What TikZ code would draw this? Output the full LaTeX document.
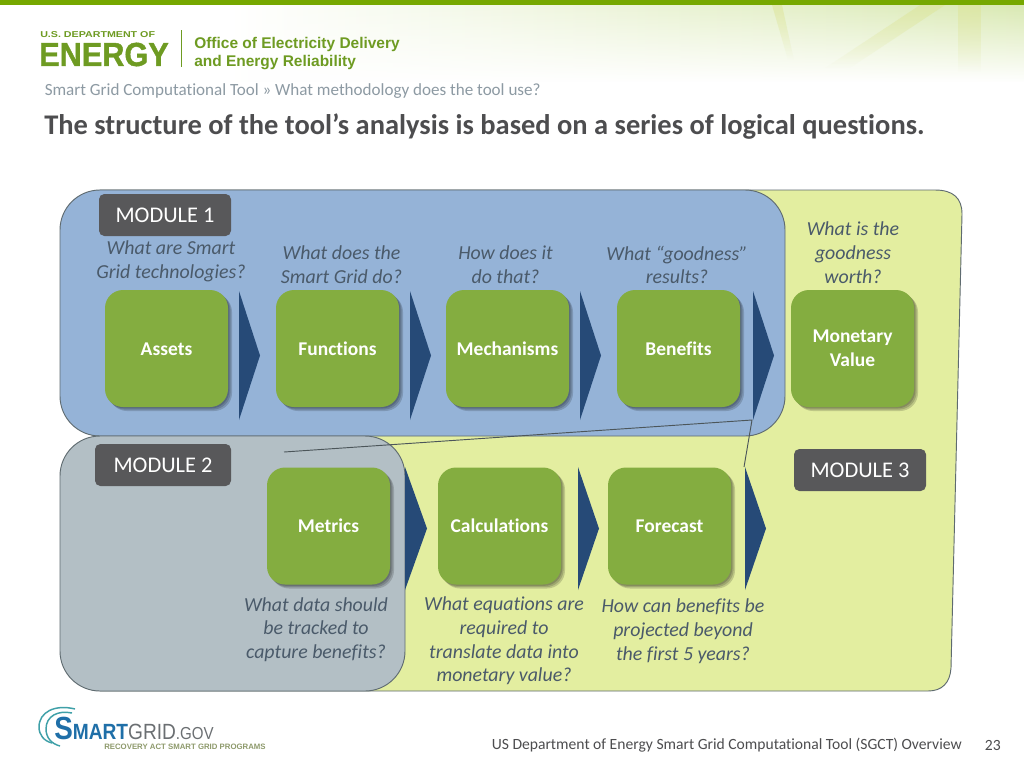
\documentclass[tikz,border=0pt]{standalone}
\usepackage{fontspec}
\setmainfont{Carlito}[RawFeature={-liga}]
\newfontfamily\logofont{Liberation Sans}
\newfontfamily\logoheavy{Liberation Sans Bold}[FakeBold=1.2]
\usetikzlibrary{fadings,shadows,calc}
\definecolor{topgreen}{HTML}{76A800}
\definecolor{logogreen}{HTML}{6E9B22}
\definecolor{panelgreen}{HTML}{E3EEA0}
\definecolor{panelblue}{HTML}{95B3D7}
\definecolor{panelgrey}{HTML}{B3BFC5}
\definecolor{edgegrey}{HTML}{5F6B70}
\definecolor{boxgreen}{HTML}{84AD40}
\definecolor{labgrey}{HTML}{58585A}
\definecolor{navy}{HTML}{264A77}
\definecolor{crumb}{HTML}{8D9AA3}
\definecolor{titlegrey}{HTML}{4D4D4F}
\definecolor{qtext}{HTML}{4A5A6A}
\definecolor{headgreen}{HTML}{D9E9B2}
\definecolor{headstreak}{HTML}{DDE59A}
\definecolor{sgblue}{HTML}{1F6FA8}
\definecolor{sgteal}{HTML}{3FA0A8}
\definecolor{sggrey}{HTML}{6B6F72}
\definecolor{sgolive}{HTML}{8E9A6C}
\tikzfading[name=headfade,top color=transparent!0,bottom color=transparent!100]
\tikzset{
  x=0.75pt,y=-0.75pt,
  panel/.style={draw=edgegrey,line width=0.7pt},
  softshadow/.style={general shadow={shadow xshift=#1,shadow yshift=-#1,fill=black,opacity=0.16}},
  stepbox/.style={fill=boxgreen,rounded corners=13.5pt,minimum width=92.25pt,minimum height=87.75pt,
    align=center,text=white,font=\fontsize{14.6}{18}\selectfont\bfseries,inner sep=0pt,
    softshadow=3pt,softshadow=2pt,softshadow=1pt},
  onelabel/.style={text height=11.4pt,text depth=2pt},
  toplabel/.style={text height=12.9pt,text depth=2pt},
  modlabel/.style={fill=labgrey,rounded corners=4pt,minimum width=99pt,minimum height=31.5pt,text=white,
    font=\fontsize{16.8}{18}\selectfont,inner sep=0pt},
  question/.style={align=center,text=qtext,font=\fontsize{14.9}{17.8}\selectfont\itshape,inner sep=0pt},
  chevronshape/.style={fill=navy},
  foottext/.style={inner sep=0pt,text=titlegrey,font=\fontsize{11.7}{13}\selectfont},
  logoarc/.style={draw=sgteal,line width=1.1pt},
}
\newcommand{\chevronat}[4]{\fill[chevronshape] (#1,#3) -- (#2,{(#3+#4)/2}) -- (#1,#4) -- cycle;}
\begin{document}
\begin{tikzpicture}
\useasboundingbox (0,0) rectangle (1024,768);
% header
\fill[white] (0,0) rectangle (1024,768);
\shade[left color=white,middle color=headgreen,right color=headgreen,path fading=headfade] (230,4) rectangle (1024,82);
\fill[headstreak,opacity=0.6,path fading=headfade] (958,5) rectangle (981,72);
\fill[headstreak,opacity=0.6,path fading=headfade] (920,5) -- (945,5) -- (850,68) -- (825,68) -- cycle;
\fill[headstreak,opacity=0.6,path fading=headfade] (772,5) -- (782,5) -- (794,60) -- (788,60) -- cycle;
\fill[topgreen] (0,0) rectangle (1024,4.5);
% logos
\node[anchor=west,inner sep=0pt,text=logogreen,font=\logofont\bfseries\fontsize{6.4}{7}\selectfont] (usdoe) at (40,34.5) {\scalebox{1.25}[1]{U.S. DEPARTMENT OF}};
\node[anchor=west,inner sep=0pt,text=logogreen,font=\logoheavy\fontsize{25}{25}\selectfont] (energy) at (39,54.5) {\scalebox{0.92}[1]{ENERGY}};
\draw[logogreen,line width=0.5pt] (181.5,30) -- (181.5,67);
\node[anchor=west,inner sep=0pt,text=logogreen,align=left,font=\logofont\bfseries\fontsize{11.6}{13.5}\selectfont] (oedr) at (194,54) {Office of Electricity Delivery\\and Energy Reliability};
% heading
\node[anchor=west,inner sep=0pt,text=crumb,font=\fontsize{12.8}{14}\selectfont] (crumbtext) at (44.5,91) {Smart Grid Computational Tool » What methodology does the tool use?};
\node[anchor=west,inner sep=0pt,text=titlegrey,font=\fontsize{21.35}{24}\selectfont\bfseries] (title) at (44,127) {The structure of the tool’s analysis is based on a series of logical questions.};
% panels
\path[panel,fill=panelgreen] (100,190) -- (935,190) .. controls (953,190) and (962,198) .. (962,214) -- (951,668) .. controls (950,683) and (942,691) .. (928,691) -- (100,691) -- cycle;
\draw[panel,fill=panelblue,rounded corners=30pt] (60,190) rectangle (785,436);
\draw[panel,fill=panelgrey,rounded corners=30pt] (60,436) rectangle (405,691);
% thin outline lines
\coordinate (lineA) at (284,452);
\coordinate (lineB) at (752,420);
\coordinate (lineC) at (744,467);
\draw[edgegrey!80!black,line width=0.7pt] (lineA) -- (lineB) -- (lineC);
% chevrons
\chevronat{239}{260}{291}{420}
\chevronat{410}{431}{291}{420}
\chevronat{580}{601}{291}{420}
\chevronat{753}{774}{291}{420}
\chevronat{405}{427}{467}{590}
\chevronat{578}{599}{467}{590}
\chevronat{745}{766}{467}{590}
% steps
\node[stepbox,toplabel] (assets) at (166.5,348.5) {Assets};
\node[stepbox,toplabel] (functions) at (337.5,348.5) {Functions};
\node[stepbox,toplabel] (mechanisms) at (507.5,348.5) {Mechanisms};
\node[stepbox,toplabel] (benefits) at (678.5,348.5) {Benefits};
\node[stepbox] (monetary) at (852.5,348.5) {\raisebox{-1.2pt}{\shortstack[c]{Monetary\\[2.6pt]Value}}};
\node[stepbox,onelabel] (metrics) at (328.5,526) {Metrics};
\node[stepbox,onelabel] (calculations) at (499.5,526) {Calculations};
\node[stepbox,onelabel] (forecast) at (669.5,526) {Forecast};
% module labels
\node[modlabel] (mod1) at (165,215) {MODULE 1};
\node[modlabel,minimum width=102pt] (mod2) at (163,465) {MODULE 2};
\node[modlabel] (mod3) at (860,470) {MODULE 3};
% questions
\node[question] (q1) at (171,261.5) {What are Smart\\Grid technologies?};
\node[question] (q2) at (341.5,265) {What does the\\Smart Grid do?};
\node[question] (q3) at (505.5,265) {How does it\\do that?};
\node[question] (q4) at (677,265) {What “goodness”\\results?};
\node[question] (q5) at (853,252.5) {What is the\\goodness\\worth?};
\node[question] (q6) at (316,629.5) {What data should\\be tracked to\\capture benefits?};
\node[question] (q7) at (504,641) {What equations are\\required  to\\translate data into\\monetary value?};
\node[question] (q8) at (683,631) {How can benefits be\\projected beyond\\the first 5 years?};
% footer logo
\draw[logoarc] (75,709) .. controls (55,704) and (39,712) .. (39,727) .. controls (39,735) and (44,741) .. (52,743);
\draw[logoarc] (72,713) .. controls (58,710) and (46,716) .. (46,729) .. controls (46,738) and (52,744) .. (60,746);
\node[anchor=west,inner sep=0pt,font=\logofont\fontsize{16.5}{20}\selectfont] (sgname) at (54,728) {\scalebox{0.87}[1]{\textcolor{sgblue}{\bfseries\fontsize{24}{24}\selectfont S}\textcolor{sgblue}{\bfseries MART}\textcolor{sggrey}{GRID}\textcolor{sggrey}{\fontsize{13}{14}\selectfont .GOV}}};
\node[anchor=west,inner sep=0pt,text=sgolive,font=\logofont\bfseries\fontsize{5.85}{7}\selectfont] (sgsub) at (104,746.5) {RECOVERY ACT SMART GRID PROGRAMS};
% footer
\node[foottext,anchor=east] (foot) at (962,745.5) {US Department of Energy Smart Grid Computational Tool (SGCT) Overview};
\node[foottext,anchor=east] (page) at (1001,745) {23};
\end{tikzpicture}
\end{document}
